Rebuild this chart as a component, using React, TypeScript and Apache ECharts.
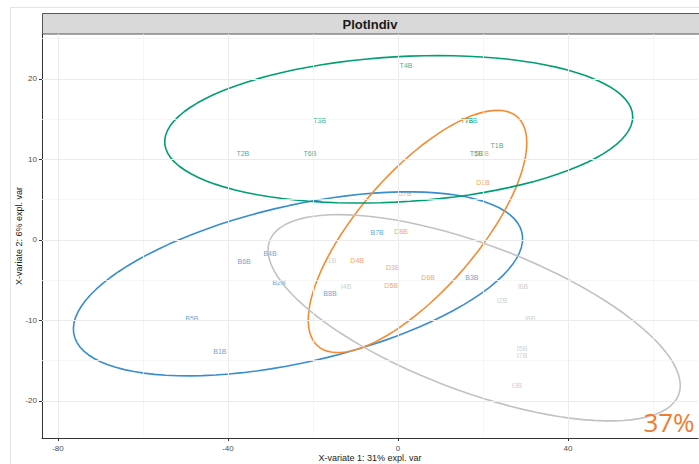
import React, { useEffect, useRef } from "react";
import * as echarts from "echarts";

// ---- data ----
const bNames = ["B1B", "B2B", "B3B", "B4B", "B5B", "B6B", "B7B", "B8B"];
const bX = [-41.9, -28.0, 17.4, -30.1, -48.5, -36.2, -4.9, -16.0];
const bY = [-13.8, -5.3, -4.6, -1.7, -9.8, -2.7, 0.9, -6.6];

const dNames = ["D1B", "D2B", "D3B", "D4B", "D5B", "D6B", "D7B", "D8B"];
const dX = [20.0, 19.8, -1.2, -9.6, -1.6, 7.1, 1.6, 0.7];
const dY = [7.2, 10.7, -3.4, -2.5, -5.7, -4.7, 5.8, 1.1];

const iNames = ["I1B", "I2B", "I3B", "I4B", "I5B", "I6B", "I7B", "I8B"];
const iX = [-15.8, 24.5, 28.0, -12.2, 29.2, 29.4, 29.2, 31.1];
const iY = [-2.6, -7.5, -18.1, -5.8, -13.5, -5.8, -14.3, -9.7];

const tNames = ["T1B", "T2B", "T3B", "T4B", "T5B", "T6B", "T7B", "T8B"];
const tX = [23.3, -36.5, -18.4, 1.9, 18.4, -20.7, 16.2, 17.2];
const tY = [11.7, 10.7, 14.8, 21.7, 10.7, 10.8, 14.8, 14.8];

const xMajor = [-80, -40, 0, 40];
const xMinor = [-60, -20, 20, 60];
const yMajor = [-20, -10, 0, 10, 20];
const yMinor = [-15, -5, 5, 15, 25];

const groups = [
  { names: bNames, xs: bX, ys: bY, color: "#388ECC" },
  { names: dNames, xs: dX, ys: dY, color: "#F68B33" },
  { names: iNames, xs: iX, ys: iY, color: "#C2C2C2" },
  { names: tNames, xs: tX, ys: tY, color: "#009E73" },
];

// 95% confidence ellipse from a group's covariance (as ellipse::ellipse)
function ellipsePoints(xs: number[], ys: number[], n = 100): number[][] {
  const m = xs.length;
  const mx = xs.reduce((a, b) => a + b, 0) / m;
  const my = ys.reduce((a, b) => a + b, 0) / m;
  let sxx = 0, syy = 0, sxy = 0;
  for (let i = 0; i < m; i++) {
    sxx += (xs[i] - mx) ** 2;
    syy += (ys[i] - my) ** 2;
    sxy += (xs[i] - mx) * (ys[i] - my);
  }
  sxx /= m - 1; syy /= m - 1; sxy /= m - 1;
  const sx = Math.sqrt(sxx), sy = Math.sqrt(syy);
  const r = sxy / (sx * sy);
  const d = Math.acos(r);
  const t = Math.sqrt(5.991464547107979);
  const pts: number[][] = [];
  for (let i = 0; i < n; i++) {
    const a = (2 * Math.PI * i) / (n - 1);
    pts.push([mx + t * sx * Math.cos(a + d / 2), my + t * sy * Math.cos(a - d / 2)]);
  }
  return pts;
}

export default function App() {
  const ref = useRef<HTMLDivElement>(null);
  useEffect(() => {
    if (!ref.current) return;
    const chart = echarts.init(ref.current, null, { renderer: "svg" });
    const font = "Liberation Sans, Arial, sans-serif";
    const series: any[] = [];
    series.push({
      type: "line",
      data: [],
      z: 1,
      silent: true,
      markLine: {
        silent: true,
        symbol: "none",
        label: { show: false },
        animation: false,
        data: [
          ...xMinor.map((v) => ({ xAxis: v, lineStyle: { color: "#F4F4F4", width: 0.8, type: "solid" } })),
          ...yMinor.map((v) => ({ yAxis: v, lineStyle: { color: "#F4F4F4", width: 0.8, type: "solid" } })),
          ...xMajor.map((v) => ({ xAxis: v, lineStyle: { color: "#EBEBEB", width: 1, type: "solid" } })),
          ...yMajor.map((v) => ({ yAxis: v, lineStyle: { color: "#EBEBEB", width: 1, type: "solid" } })),
        ],
      },
    });
    groups.forEach((g) => {
      series.push({
        type: "scatter",
        z: 3,
        symbolSize: 1,
        itemStyle: { color: "rgba(0,0,0,0)" },
        data: g.names.map((nm, i) => [g.xs[i], g.ys[i], nm]),
        label: {
          show: true,
          position: "inside",
          formatter: (p: any) => p.value[2],
          color: g.color,
          fontSize: 7,
          fontFamily: font,
        },
      });
    });
    groups.forEach((g) => {
      series.push({
        type: "line",
        z: 4,
        showSymbol: false,
        symbol: "none",
        data: ellipsePoints(g.xs, g.ys),
        lineStyle: { color: g.color, width: 1.6 },
      });
    });

    chart.setOption({
      animation: false,
      grid: { left: 42, top: 34, right: 1, bottom: 26, containLabel: false, outerBoundsMode: "none" },
      xAxis: {
        type: "value",
        min: -83.76,
        max: 70.6,
        name: "X-variate 1: 31% expl. var",
        nameLocation: "middle",
        nameGap: 15,
        nameMoveOverlap: false,
        nameTextStyle: { fontSize: 9, color: "#1a1a1a", fontFamily: font },
        axisLine: { show: true, onZero: false, lineStyle: { color: "#333", width: 1 } },
        axisTick: { show: true, length: 3, customValues: xMajor, lineStyle: { color: "#333" } },
        axisLabel: { customValues: xMajor, fontSize: 8, color: "#4D4D4D", margin: 6, fontFamily: font },
        splitLine: { show: false },
      },
      yAxis: {
        type: "value",
        min: -24.6,
        max: 25.59,
        name: "X-variate 2: 6% expl. var",
        nameLocation: "middle",
        nameGap: 19,
        nameMoveOverlap: false,
        nameTextStyle: { fontSize: 9, color: "#1a1a1a", fontFamily: font },
        axisLine: { show: true, onZero: false, lineStyle: { color: "#333", width: 1 } },
        axisTick: { show: true, length: 3, customValues: yMajor, lineStyle: { color: "#333" } },
        axisLabel: { customValues: yMajor, fontSize: 8, color: "#4D4D4D", margin: 5, fontFamily: font },
        splitLine: { show: false },
      },
      graphic: [
        { type: "line", shape: { x1: 10, y1: 7.5, x2: 699, y2: 7.5 }, style: { stroke: "#E4E4E4", lineWidth: 1 } },
        { type: "line", shape: { x1: 10.5, y1: 7, x2: 10.5, y2: 464 }, style: { stroke: "#E4E4E4", lineWidth: 1 } },
        { type: "rect", shape: { x: 42.5, y: 13.5, width: 660, height: 20.5 }, style: { fill: "#D9D9D9", stroke: "#555", lineWidth: 1 } },
        { type: "text", x: 370, y: 24, style: { text: "PlotIndiv", fill: "#1a1a1a", font: "bold 13px " + font, textAlign: "center", textVerticalAlign: "middle" } },
        { type: "text", x: 669, y: 422, z: 100, style: { text: "37%", fill: "#ED7D31", font: "26px 'Open Sans', sans-serif", textAlign: "center", textVerticalAlign: "middle" } },
      ],
      series,
    });
    return () => chart.dispose();
  }, []);
  return <div ref={ref} style={{ position: "absolute", left: 0, top: 0, width: 699, height: 464, background: "#fff" }} />;
}
